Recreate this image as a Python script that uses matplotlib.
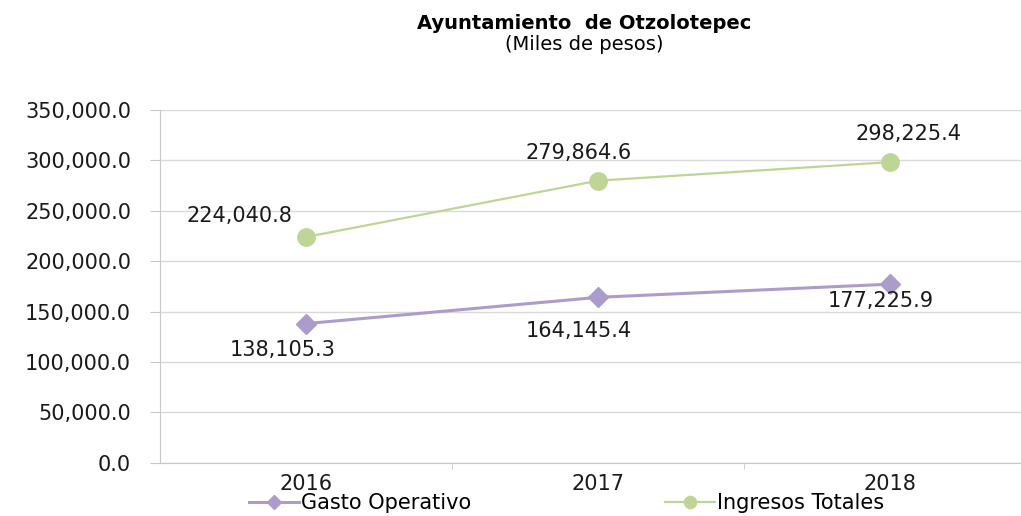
import matplotlib.pyplot as plt
from matplotlib.ticker import FuncFormatter, FixedLocator

# data
years = ['2016', '2017', '2018']
gasto = [138105.3, 164145.4, 177225.9]
ingresos = [224040.8, 279864.6, 298225.4]

# label offsets in points (dx, dy)
gasto_off = [(-17, -19), (-14, -24), (-7, -12)]
ingresos_off = [(-48, 15), (-14, 20), (13, 20)]

purple = '#AC9CCB'
green = '#BFD596'
fs = 15

plt.rcParams['font.family'] = ['DejaVu Sans']

fig = plt.figure(figsize=(10.21, 5.16), dpi=100)
ax = fig.add_axes([0.157, 0.103, 0.858, 0.684])

x = range(len(years))
ax.plot(x, gasto, color=purple, lw=2.2, marker='D', ms=10, label='Gasto Operativo')
ax.plot(x, ingresos, color=green, lw=1.6, marker='o', ms=12.5, label='Ingresos Totales')

for i in x:
    ax.annotate('{:,.1f}'.format(gasto[i]), (i, gasto[i]), xytext=gasto_off[i],
                textcoords='offset points', ha='center', va='center', fontsize=fs, color='#1a1a1a')
    ax.annotate('{:,.1f}'.format(ingresos[i]), (i, ingresos[i]), xytext=ingresos_off[i],
                textcoords='offset points', ha='center', va='center', fontsize=fs, color='#1a1a1a')

ax.set_xlim(-0.5, 2.5)
ax.set_ylim(0, 350000)
ax.set_yticks(range(0, 350001, 50000))
ax.yaxis.set_major_formatter(FuncFormatter(lambda v, p: '{:,.1f}'.format(v)))
ax.set_xticks(list(x))
ax.set_xticklabels(years)
ax.xaxis.set_minor_locator(FixedLocator([0.5, 1.5]))

ax.grid(axis='y', color='#D9D9D9', lw=1)
ax.set_axisbelow(True)
for s in ['top', 'right']:
    ax.spines[s].set_visible(False)
for s in ['left', 'bottom']:
    ax.spines[s].set_color('#C8C8C8')
ax.tick_params(axis='y', length=7, color='#C8C8C8', labelsize=fs, pad=14, labelcolor='#1a1a1a')
ax.tick_params(axis='x', which='major', length=0, labelsize=fs, pad=8, labelcolor='#1a1a1a')
ax.tick_params(axis='x', which='minor', length=4, color='#C8C8C8')

fig.text(0.572, 0.955, 'Ayuntamiento  de Otzolotepec', ha='center', va='center',
         fontsize=14, fontweight='bold')
fig.text(0.572, 0.913, '(Miles de pesos)', ha='center', va='center', fontsize=14)

fig.legend(loc='center', bbox_to_anchor=(0.555, 0.025), ncol=2, frameon=False,
           fontsize=fs, handlelength=2.4, columnspacing=9.3, handletextpad=0.1,
           markerscale=0.7, borderpad=0, borderaxespad=0)

fig.savefig('out.png', dpi=100)
